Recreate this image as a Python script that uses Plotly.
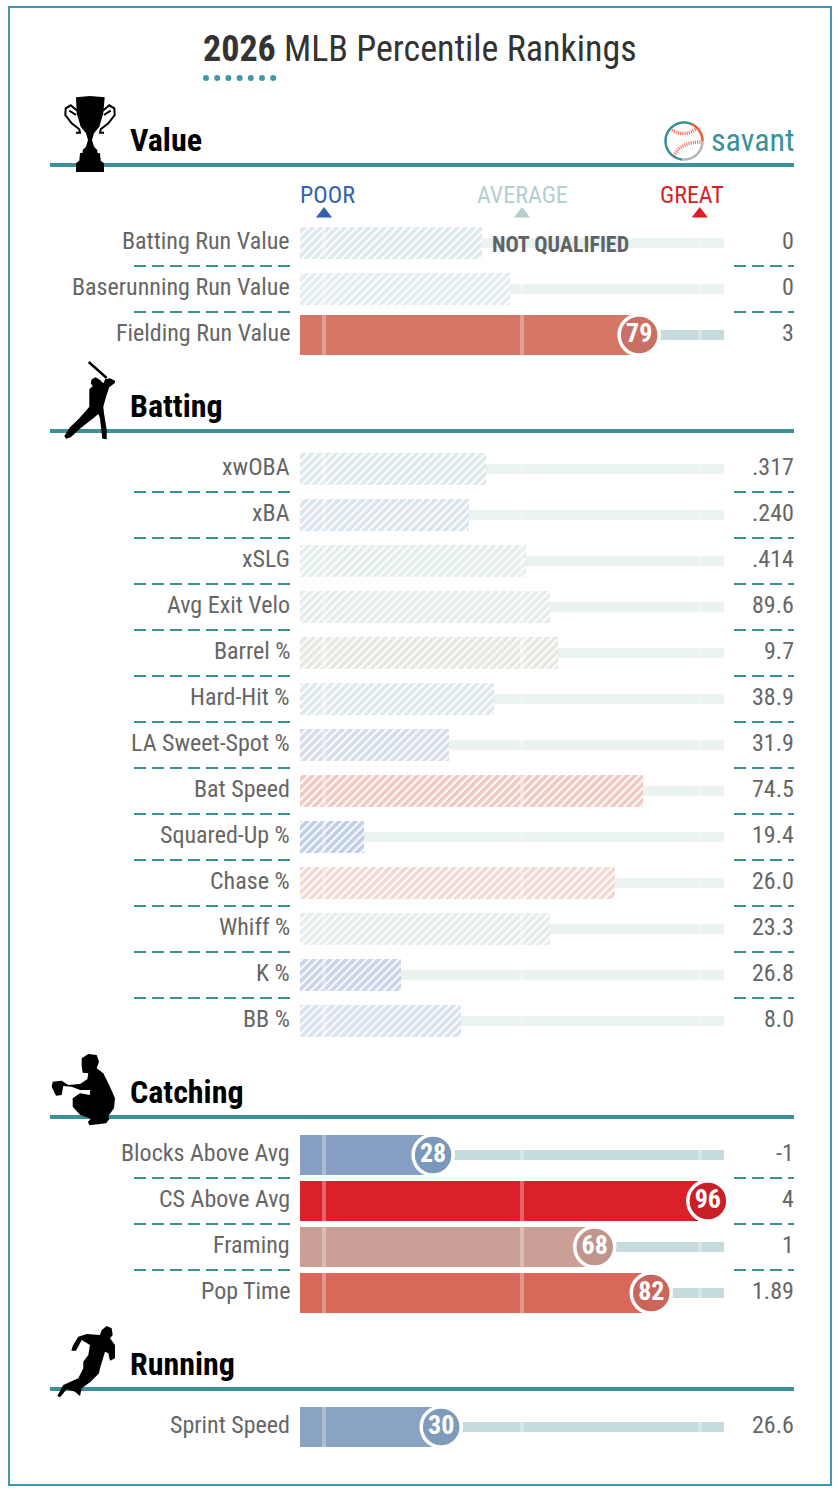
import numpy as np
import plotly.graph_objects as go

# ---- data ----------------------------------------------------------------
SEASON = "2026"
TITLE_REST = " MLB Percentile Rankings"

SECTION_NAMES = ["Value", "Batting", "Catching", "Running"]

VALUE_LABELS = ["Batting Run Value", "Baserunning Run Value", "Fielding Run Value"]
VALUE_PCT = [40, 47, 79]
VALUE_STATS = ["0", "0", "3"]
VALUE_QUALIFIED = [False, False, True]

BATTING_LABELS = ["xwOBA", "xBA", "xSLG", "Avg Exit Velo", "Barrel %", "Hard-Hit %", "LA Sweet-Spot %",
                  "Bat Speed", "Squared-Up %", "Chase %", "Whiff %", "K %", "BB %"]
BATTING_PCT = [41, 37, 51, 57, 59, 43, 32, 80, 11, 73, 57, 20, 35]
BATTING_STATS = [".317", ".240", ".414", "89.6", "9.7", "38.9", "31.9", "74.5", "19.4", "26.0", "23.3", "26.8", "8.0"]
BATTING_QUALIFIED = [False] * 13

CATCHING_LABELS = ["Blocks Above Avg", "CS Above Avg", "Framing", "Pop Time"]
CATCHING_PCT = [28, 96, 68, 82]
CATCHING_STATS = ["-1", "4", "1", "1.89"]
CATCHING_QUALIFIED = [True] * 4

RUNNING_LABELS = ["Sprint Speed"]
RUNNING_PCT = [30]
RUNNING_STATS = ["26.6"]
RUNNING_QUALIFIED = [True]

# bar and badge shades per percentile
BAR_SHADES = {28: "#869FC3", 30: "#8AA3C2", 96: "#D82129", 68: "#CB9F96", 79: "#D67667", 82: "#D8695A"}
BADGE_SHADES = {28: "#7A97BC", 30: "#7F9BBC", 96: "#C91F26", 68: "#C0968C", 79: "#C96F63", 82: "#C9655A"}
HATCH_SHADES = {40: "#DEE8ED", 47: "#E3EDEE", 41: "#DEE8ED", 37: "#DCE5EC", 51: "#E3EEEB", 57: "#E6ECE9",
                59: "#E8E8E3", 43: "#DFE9EC", 32: "#D5DDEB", 80: "#F2C9C2", 11: "#BFCDE5", 73: "#F2D8D2",
                20: "#CBD3E7", 35: "#D9E2ED"}

BENCHMARKS = [("POOR", 1, "#3461AE"), ("AVERAGE", 50, "#B3CFD0"), ("GREAT", 94, "#D91F26")]
BENCHMARK_LABEL_X = [327, 522, 692]

# ---- styling and layout constants ----------------------------------------
FONT = "Roboto Condensed, Liberation Sans Narrow, Roboto, sans-serif"
W, H = 838, 1494
TEAL = "#3A9199"
FRAME = "#4297A8"
LABEL_GREY = "#666666"

PX_ZERO, PX_PER_PCT = 320, 4.04          # x scale: percentile -> page pixel
BAR_START = (300 - PX_ZERO) / PX_PER_PCT  # bars begin a little left of zero
ROW_STEP = 46
SECTION_RULES = [165, 431, 1117, 1389]
SECTION_FIRST_ROW = [243, 469, 1155, 1427]
ICON_SCALE = 1 / 3


def txt(x, y, text, size, color, anchor="center", bold=False):
    return dict(x=x, y=y, xref="x2", yref="y", text=text, showarrow=False, xanchor=anchor, yanchor="middle",
                font=dict(family=FONT, size=size, color=color, weight=700 if bold else 400),
                borderpad=0, borderwidth=0)


def poly(points, ox, oy):
    pts = [(ox + a * ICON_SCALE, oy + b * ICON_SCALE) for a, b in points]
    return "M" + " L".join(f"{a:.1f},{b:.1f}" for a, b in pts) + " Z"


def open_line(points, ox, oy):
    pts = [(ox + a * ICON_SCALE, oy + b * ICON_SCALE) for a, b in points]
    return "M" + " L".join(f"{a:.1f},{b:.1f}" for a, b in pts)


def arc(cx, cy, r, a0, a1):
    t = np.radians(np.linspace(a0, a1, 40))
    return "M" + " L".join(f"{cx + r * np.cos(v):.2f},{cy + r * np.sin(v):.2f}" for v in t)


def ink(path, color="black"):
    return dict(type="path", path=path, xref="x2", yref="y", fillcolor=color, line=dict(width=0), layer="above")


def stroke(path, color="black", width=2, dash="solid"):
    return dict(type="path", path=path, xref="x2", yref="y", line=dict(color=color, width=width, dash=dash),
                layer="above")


sections = [
    (VALUE_LABELS, VALUE_PCT, VALUE_STATS, VALUE_QUALIFIED),
    (BATTING_LABELS, BATTING_PCT, BATTING_STATS, BATTING_QUALIFIED),
    (CATCHING_LABELS, CATCHING_PCT, CATCHING_STATS, CATCHING_QUALIFIED),
    (RUNNING_LABELS, RUNNING_PCT, RUNNING_STATS, RUNNING_QUALIFIED),
]

rows = []
annotations = []
shapes = []
for s, (labels, pcts, stats, quals) in enumerate(sections):
    for i, (lab, pct, stat, q) in enumerate(zip(labels, pcts, stats, quals)):
        y = SECTION_FIRST_ROW[s] + i * ROW_STEP
        rows.append(dict(y=y, pct=pct, q=q))
        annotations.append(txt(290, y - 2, lab, 24, LABEL_GREY, "right"))
        annotations.append(txt(794, y - 2, stat, 24, LABEL_GREY, "right"))
        if i < len(labels) - 1:
            for x0, x1 in ((134, 290), (734, 794)):
                shapes.append(dict(type="line", x0=x0, x1=x1, y0=y + 23, y1=y + 23, xref="x2", yref="y",
                                   line=dict(color=TEAL, width=2, dash="12px,6px")))

ys = [r["y"] for r in rows]
fig = go.Figure()

# background tracks
fig.add_trace(go.Bar(
    orientation="h", y=ys, base=BAR_START, x=[100 - BAR_START] * len(rows), width=10,
    marker=dict(color=["#C5DBDC" if r["q"] else "#EBF3F1" for r in rows], line_width=0),
    hoverinfo="skip", showlegend=False))

# hatched bars for players short of the qualifying threshold
hatched = [r for r in rows if not r["q"]]
fig.add_trace(go.Bar(
    orientation="h", y=[r["y"] for r in hatched], base=BAR_START,
    x=[r["pct"] - BAR_START for r in hatched], width=32,
    marker=dict(color="white", line_width=0,
                pattern=dict(shape="/", size=5.7, solidity=0.66, bgcolor="white",
                             fgcolor=[HATCH_SHADES[r["pct"]] for r in hatched], fgopacity=1)),
    hoverinfo="skip", showlegend=False))

# solid bars
solid = [r for r in rows if r["q"]]
fig.add_trace(go.Bar(
    orientation="h", y=[r["y"] for r in solid], base=BAR_START,
    x=[r["pct"] - BAR_START for r in solid], width=40,
    marker=dict(color=[BAR_SHADES[r["pct"]] for r in solid], line_width=0),
    hoverinfo="skip", showlegend=False))

# benchmark ticks run the height of whatever they sit on
tick_y, tick_base, tick_h = [], [], []
for _, b, _c in BENCHMARKS:
    for r in rows:
        tick_y.append(r["y"])
        tick_base.append(b - 0.5)
        tick_h.append((40 if r["q"] else 32) if b < r["pct"] else 10)
fig.add_trace(go.Bar(
    orientation="h", y=tick_y, base=tick_base, x=[1] * len(tick_y), width=tick_h,
    marker=dict(color="rgba(255,255,255,0.3)", line_width=0), hoverinfo="skip", showlegend=False))

# percentile badges
fig.add_trace(go.Scatter(
    x=[r["pct"] for r in solid], y=[r["y"] for r in solid], mode="markers+text",
    marker=dict(size=40, color=[BADGE_SHADES[r["pct"]] for r in solid], line=dict(color="white", width=3.5), opacity=1),
    text=[str(r["pct"]) for r in solid], textposition="middle center",
    textfont=dict(family=FONT, size=26, color="white", weight=700),
    hoverinfo="skip", showlegend=False))

# POOR / AVERAGE / GREAT markers
fig.add_trace(go.Scatter(
    x=[b[1] for b in BENCHMARKS], y=[214] * 3, mode="markers",
    marker=dict(symbol="triangle-up", size=14, color=[b[2] for b in BENCHMARKS], line_width=0),
    hoverinfo="skip", showlegend=False))
for (name, _, col), lx in zip(BENCHMARKS, BENCHMARK_LABEL_X):
    annotations.append(txt(lx, 195, name, 24, col))

annotations.append(txt(492, 244, "NOT QUALIFIED", 22, "#5F6366", "left", bold=True))

# title with its dotted underline
annotations.append(dict(x=420, y=49, xref="x2", yref="y", showarrow=False, xanchor="center", yanchor="middle",
                        text=f"<b>{SEASON}</b>{TITLE_REST}",
                        font=dict(family=FONT, size=36, color="#333333")))
fig.add_trace(go.Scatter(
    x=[206 + 11.2 * k for k in range(7)], y=[78] * 7, xaxis="x2", yaxis="y", mode="markers",
    marker=dict(size=6, color=FRAME, line_width=0), hoverinfo="skip", showlegend=False))

# section headers
for name, rule in zip(SECTION_NAMES, SECTION_RULES):
    annotations.append(txt(130, rule - 25, name, 32, "black", "left", bold=True))
    shapes.append(dict(type="line", x0=50, x1=794, y0=rule, y1=rule, xref="x2", yref="y",
                       line=dict(color=TEAL, width=4), layer="above"))

# savant word mark and ball
annotations.append(txt(794, 140, "savant", 32, TEAL, "right"))
shapes.append(stroke(arc(684, 141, 18.5, 95, 295), TEAL, 2.5))
shapes.append(stroke(arc(684, 141, 18.5, -65, 0), "#EF5A28", 2.5))
shapes.append(stroke(arc(684, 141, 18.5, 0, 95), "#B5B5B5", 2.5))
shapes.append(stroke("M672,130 Q685,138 697,128", "#F0654F", 3.5, "1px,1.2px"))
shapes.append(stroke("M674,156 Q680,142 701,142", "#F0654F", 3.5, "1px,1.2px"))

# section silhouettes
TROPHY = [(228, 292), (270, 288), (314, 292), (310, 340), (298, 380), (282, 400), (276, 420), (282, 440), (292, 450),
          (292, 458), (300, 460), (302, 482), (312, 490), (312, 516), (228, 516), (228, 490), (238, 482), (240, 460),
          (248, 458), (248, 450), (258, 440), (264, 420), (258, 400), (242, 380), (230, 340)]
shapes.append(ink(poly(TROPHY, 0, 0)))
for flip in (False, True):
    handle = [(232, 332), (212, 316), (197, 325), (196, 345), (215, 370), (238, 388), (240, 398), (228, 398)]
    handle2 = [(228, 345), (208, 332)]
    for part in (handle, handle2):
        shapes.append(stroke(open_line([(540 - a if flip else a, b) for a, b in part], 0, 0), "black", 2))

BATTER = [(345, 92), (330, 85), (316, 88), (310, 100), (300, 90), (287, 82), (275, 88), (272, 100), (278, 108),
          (268, 118), (268, 170), (258, 182), (235, 208), (210, 232), (193, 258), (198, 266), (212, 262), (245, 232),
          (280, 205), (295, 192), (300, 205), (307, 266), (320, 268), (320, 240), (312, 190), (310, 170), (318, 140),
          (328, 112), (345, 98)]
shapes.append(ink(poly(BATTER, 0, 350)))
shapes.append(stroke(open_line([(266, 36), (320, 84)], 0, 350), "black", 2.5))

CATCHER = [(245, 55), (265, 42), (290, 45), (297, 65), (290, 85), (310, 100), (330, 140), (345, 175), (342, 205),
           (325, 228), (328, 238), (318, 250), (268, 256), (264, 246), (272, 236), (240, 224), (218, 200), (218, 175),
           (240, 160), (270, 165), (270, 150), (240, 150), (215, 140), (190, 138), (185, 165), (168, 167), (155, 140),
           (158, 125), (185, 122), (205, 135), (240, 132), (262, 118), (265, 100), (248, 98), (245, 80)]
shapes.append(ink(poly(CATCHER, 0, 1040)))

RUNNER = [(305, 60), (320, 48), (335, 55), (338, 75), (330, 85), (345, 105), (345, 145), (330, 152), (325, 130),
          (315, 125), (300, 175), (297, 190), (272, 215), (245, 235), (240, 258), (225, 245), (200, 238), (180, 262),
          (172, 258), (190, 225), (235, 205), (250, 175), (250, 155), (265, 135), (270, 105), (245, 90), (228, 122),
          (214, 122), (218, 108), (235, 80), (260, 72), (300, 75)]
shapes.append(ink(poly(RUNNER, 0, 1310)))

# page frame
shapes.append(dict(type="rect", x0=9, x1=831, y0=7, y1=1485, xref="x2", yref="y",
                   line=dict(color=FRAME, width=2)))

fig.update_layout(
    width=W, height=H, autosize=False, margin=dict(l=0, r=0, t=0, b=0),
    paper_bgcolor="white", plot_bgcolor="white", barmode="overlay", bargap=0, showlegend=False,
    xaxis=dict(range=[-PX_ZERO / PX_PER_PCT, (W - PX_ZERO) / PX_PER_PCT], domain=[0, 1], visible=False, fixedrange=True),
    xaxis2=dict(range=[0, W], domain=[0, 1], overlaying="x", visible=False, fixedrange=True),
    yaxis=dict(range=[H, 0], domain=[0, 1], visible=False, fixedrange=True),
    annotations=annotations, shapes=shapes,
)
fig.write_html("out.html", config=dict(displayModeBar=False))
